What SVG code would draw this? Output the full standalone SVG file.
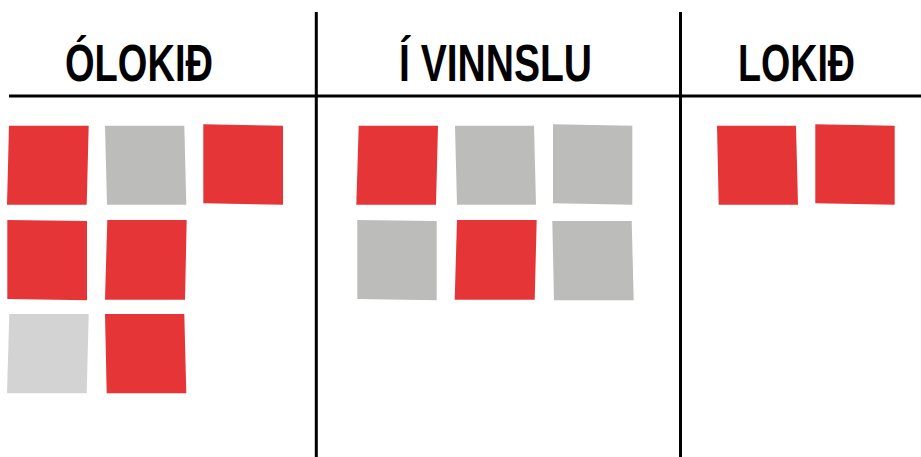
<svg xmlns="http://www.w3.org/2000/svg" width="921" height="457" viewBox="0 0 921 457">
<style>
.bg{fill:#ffffff}
.ln{stroke:#000000;stroke-width:3;fill:none}
.t{font-family:"Liberation Sans",Arial,sans-serif;font-weight:bold;font-size:52px;fill:#000000}
.r{fill:#E63536}
.g{fill:#BCBCBB}
.lg{fill:#D3D3D3}
</style>
<rect class="bg" x="0" y="0" width="921" height="457"/>
<g id="grid">
<line class="ln" x1="9" y1="96" x2="921" y2="96"/>
<line class="ln" x1="316.3" y1="12" x2="316.3" y2="457"/>
<line class="ln" x1="680.5" y1="12" x2="680.5" y2="457"/>
</g>
<g id="headers">
<text id="h1" class="t" x="65" y="81" textLength="148" lengthAdjust="spacingAndGlyphs">ÓLOKIÐ</text>
<text id="h2" class="t" x="399" y="81" textLength="193" lengthAdjust="spacingAndGlyphs">Í VINNSLU</text>
<text id="h3" class="t" x="738" y="81" textLength="117" lengthAdjust="spacingAndGlyphs">LOKIÐ</text>
</g>
<g id="col1">
<g id="c1n1"><polygon class="r" points="9,125.7 88.7,125.7 86.7,204.7 7,204.7"/></g>
<g id="c1n2"><polygon class="g" points="105,125.7 184.3,125.7 186.3,204.7 107,204.7"/></g>
<g id="c1n3"><polygon class="r" points="203.3,124.3 283,125.7 283,204.7 203.3,203.3"/></g>
<g id="c1n4"><polygon class="r" points="7.3,220 87,221 87,300.3 7.3,299"/></g>
<g id="c1n5"><polygon class="r" points="107.3,220 186.7,220 185,299.7 105,299.7"/></g>
<g id="c1n6"><polygon class="lg" points="9.3,314 88.7,314 86.7,393.3 7,393.3"/></g>
<g id="c1n7"><polygon class="r" points="105,314 184.3,314 186.3,393.3 106.7,393.3"/></g>
</g>
<g id="col2">
<g id="c2n1"><polygon class="r" points="358.7,125.7 438,125.7 436,204.7 356.3,204.7"/></g>
<g id="c2n2"><polygon class="g" points="455,125.7 534,125.7 536,204.7 457,204.7"/></g>
<g id="c2n3"><polygon class="g" points="553,124.3 632.3,125.7 632.3,204.7 553,203.3"/></g>
<g id="c2n4"><polygon class="g" points="357.3,220 436.7,221 436.7,300.3 357.3,299"/></g>
<g id="c2n5"><polygon class="r" points="457,220 536.7,220 534.7,299.7 454.7,299.7"/></g>
<g id="c2n6"><polygon class="g" points="552.3,221 631.7,221 633.7,300.3 554,300.3"/></g>
</g>
<g id="col3">
<g id="c3n1"><polygon class="r" points="717,125.7 796,125.7 798,204.7 718.7,204.7"/></g>
<g id="c3n2"><polygon class="r" points="815.3,124.3 894.7,125.7 894.7,204.7 815.3,203.3"/></g>
</g>
</svg>
